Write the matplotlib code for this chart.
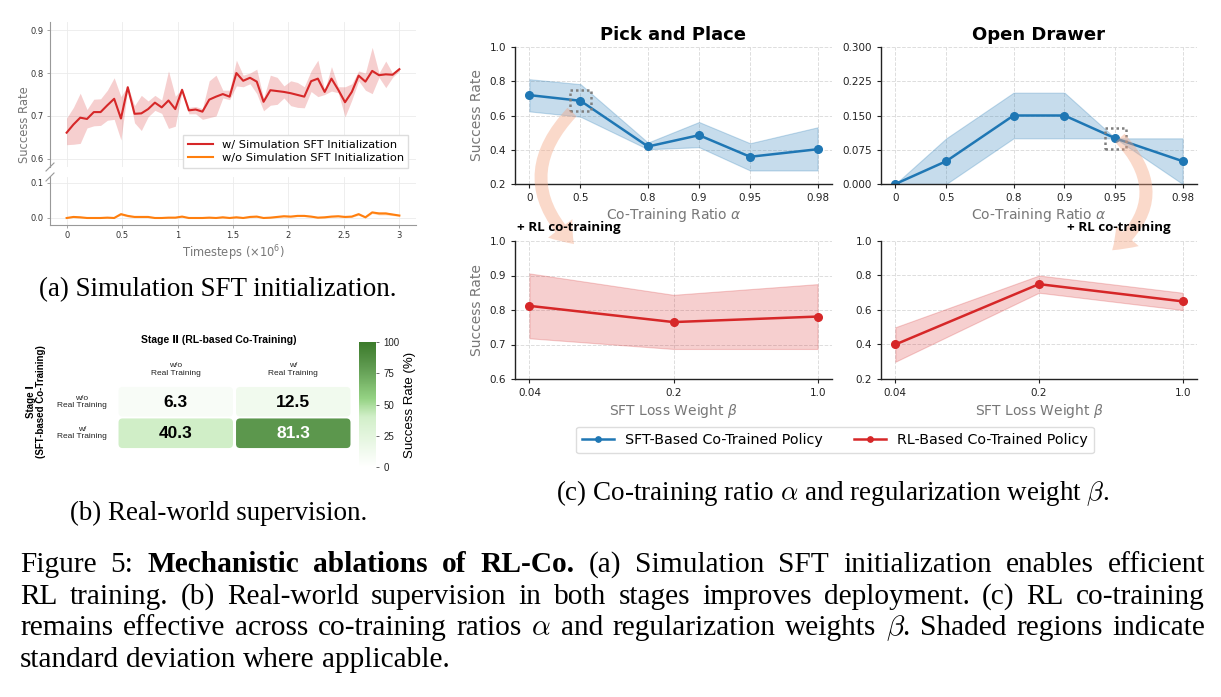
import numpy as np
import matplotlib
matplotlib.use('Agg')
import matplotlib.pyplot as plt
from matplotlib.patches import FancyBboxPatch, FancyArrowPatch, Rectangle, ArrowStyle
from matplotlib.colors import LinearSegmentedColormap, Normalize
import matplotlib.cm as cm

W, H = 1221, 697

# ---------------- data: (a) simulation SFT initialization ----------------
steps = np.linspace(0, 3.0, 50)
sft_mean = [0.661, 0.680, 0.696, 0.693, 0.709, 0.709, 0.725, 0.740, 0.694, 0.767,
            0.705, 0.706, 0.716, 0.731, 0.720, 0.736, 0.716, 0.761, 0.713, 0.715,
            0.710, 0.738, 0.745, 0.751, 0.745, 0.800, 0.782, 0.789, 0.780, 0.733,
            0.760, 0.758, 0.756, 0.753, 0.749, 0.745, 0.781, 0.787, 0.756, 0.787,
            0.761, 0.732, 0.756, 0.794, 0.780, 0.805, 0.795, 0.797, 0.796, 0.809]
sft_hi = [0.695, 0.720, 0.753, 0.715, 0.739, 0.740, 0.760, 0.789, 0.745, 0.770,
          0.724, 0.748, 0.735, 0.748, 0.737, 0.805, 0.746, 0.763, 0.720, 0.722,
          0.717, 0.782, 0.795, 0.760, 0.760, 0.830, 0.795, 0.800, 0.809, 0.741,
          0.795, 0.790, 0.770, 0.782, 0.778, 0.768, 0.805, 0.830, 0.760, 0.815,
          0.768, 0.768, 0.775, 0.805, 0.800, 0.860, 0.800, 0.828, 0.800, 0.812]
sft_lo = [0.633, 0.634, 0.636, 0.672, 0.677, 0.678, 0.690, 0.692, 0.644, 0.764,
          0.684, 0.666, 0.698, 0.713, 0.706, 0.671, 0.676, 0.758, 0.705, 0.705,
          0.692, 0.696, 0.700, 0.742, 0.738, 0.770, 0.768, 0.775, 0.752, 0.712,
          0.725, 0.727, 0.742, 0.724, 0.720, 0.719, 0.757, 0.745, 0.750, 0.758,
          0.754, 0.698, 0.737, 0.782, 0.760, 0.752, 0.790, 0.766, 0.790, 0.805]
nosft_mean = [0.000, 0.003, 0.002, 0.000, 0.000, 0.000, 0.001, 0.000, 0.011, 0.006,
              0.003, 0.003, 0.003, 0.000, 0.000, 0.001, 0.001, 0.004, 0.000, 0.000,
              0.000, 0.001, 0.000, 0.002, 0.000, 0.002, 0.000, 0.003, 0.004, 0.000,
              0.001, 0.003, 0.005, 0.004, 0.006, 0.006, 0.004, 0.001, 0.002, 0.004,
              0.005, 0.003, 0.004, 0.011, 0.002, 0.016, 0.013, 0.013, 0.010, 0.007]
nosft_hi = [0.001, 0.005, 0.004, 0.001, 0.001, 0.001, 0.003, 0.001, 0.014, 0.009,
            0.005, 0.005, 0.005, 0.001, 0.001, 0.003, 0.003, 0.006, 0.001, 0.001,
            0.001, 0.003, 0.001, 0.004, 0.001, 0.004, 0.001, 0.005, 0.006, 0.001,
            0.003, 0.005, 0.007, 0.006, 0.008, 0.008, 0.006, 0.003, 0.004, 0.006,
            0.007, 0.005, 0.006, 0.014, 0.004, 0.019, 0.017, 0.017, 0.013, 0.009]
nosft_lo = [0.000, 0.001, 0.000, 0.000, 0.000, 0.000, 0.000, 0.000, 0.008, 0.003,
            0.001, 0.001, 0.001, 0.000, 0.000, 0.000, 0.000, 0.002, 0.000, 0.000,
            0.000, 0.000, 0.000, 0.000, 0.000, 0.000, 0.000, 0.001, 0.002, 0.000,
            0.000, 0.001, 0.003, 0.002, 0.004, 0.004, 0.002, 0.000, 0.000, 0.002,
            0.003, 0.001, 0.002, 0.008, 0.000, 0.013, 0.009, 0.009, 0.007, 0.005]

# ---------------- data: (b) real-world supervision ----------------
stage2_labels = ['w/o\nReal Training', 'w/\nReal Training']
stage1_labels = ['w/o\nReal Training', 'w/\nReal Training']
real_success = [[6.3, 12.5],
                [40.3, 81.3]]

# ---------------- data: (c) co-training ratio / loss weight ----------------
alpha_vals = [0, 0.5, 0.8, 0.9, 0.95, 0.98]
alpha_labels = ['0', '0.5', '0.8', '0.9', '0.95', '0.98']
pick_sft = [0.719, 0.686, 0.419, 0.485, 0.359, 0.403]
pick_sft_hi = [0.812, 0.783, 0.442, 0.562, 0.438, 0.531]
pick_sft_lo = [0.624, 0.593, 0.403, 0.415, 0.279, 0.279]
drawer_sft = [0.0, 0.05, 0.15, 0.15, 0.10, 0.05]
drawer_sft_hi = [0.0, 0.10, 0.20, 0.20, 0.10, 0.10]
drawer_sft_lo = [0.0, 0.00, 0.10, 0.10, 0.10, 0.00]

beta_labels = ['0.04', '0.2', '1.0']
pick_rl = [0.812, 0.765, 0.781]
pick_rl_hi = [0.906, 0.844, 0.875]
pick_rl_lo = [0.718, 0.687, 0.687]
drawer_rl = [0.40, 0.75, 0.65]
drawer_rl_hi = [0.50, 0.80, 0.70]
drawer_rl_lo = [0.30, 0.70, 0.60]

RED = '#d62728'
ORANGE = '#ff7f0e'
BLUE = '#1f77b4'
SERIF = 'Liberation Serif'

fig = plt.figure(figsize=(W / 100, H / 100), dpi=100)
renderer = fig.canvas.get_renderer()


def px_axes(x0, y0, x1, y1):
    return fig.add_axes([x0 / W, 1 - y1 / H, (x1 - x0) / W, (y1 - y0) / H])


# ================= (a) =================
ax_t = px_axes(50, 22, 416, 167)
ax_b = px_axes(50, 177, 416, 225)
for ax in (ax_t, ax_b):
    ax.fill_between(steps, sft_lo, sft_hi, color=RED, alpha=0.22, lw=0)
    ax.plot(steps, sft_mean, color=RED, lw=1.5, label='w/ Simulation SFT Initialization')
    ax.fill_between(steps, nosft_lo, nosft_hi, color=ORANGE, alpha=0.3, lw=0)
    ax.plot(steps, nosft_mean, color=ORANGE, lw=1.5, label='w/o Simulation SFT Initialization')
    ax.set_xlim(-0.15, 3.15)
    ax.set_xticks([0, 0.5, 1, 1.5, 2, 2.5, 3])
    ax.grid(True, color='#ebebeb', lw=0.6)
    ax.set_axisbelow(True)
    ax.spines['top'].set_visible(False)
    ax.spines['right'].set_visible(False)
    for s in ('left', 'bottom'):
        ax.spines[s].set_color('#999999')
        ax.spines[s].set_linewidth(0.8)
    ax.tick_params(labelsize=6, colors='#999999', labelcolor='#333333', length=2.5, width=0.6,
                   pad=2)
ax_t.set_ylim(0.581, 0.919)
ax_t.set_yticks([0.6, 0.7, 0.8, 0.9])
ax_t.spines['bottom'].set_visible(False)
ax_t.tick_params(axis='x', length=0, labelbottom=False)
ax_b.set_ylim(-0.02, 0.117)
ax_b.set_yticks([0.0, 0.1])
ax_b.set_yticklabels(['0.0', '0.1'])
ax_b.set_xticklabels(['0', '0.5', '1', '1.5', '2', '2.5', '3'])
ax_b.set_xlabel('Timesteps ($\\times10^6$)', fontsize=8.3, color='#777777', labelpad=2)
fig.text(25 / W, 1 - 125 / H, 'Success Rate', rotation=90, fontsize=8.3, color='#777777',
         ha='center', va='center')
ax_t.legend(loc='lower right', bbox_to_anchor=(0.995, -0.045), fontsize=8.2, frameon=True,
            edgecolor='#dddddd', fancybox=False, framealpha=1, handlelength=2.2,
            borderpad=0.4, labelspacing=0.3)
# axis break marks
kw = dict(color='#999999', clip_on=False, lw=0.8)
ax_t.plot([-4 / 366, 4 / 366], [-4 / 145, 4 / 145], transform=ax_t.transAxes, **kw)
ax_b.plot([-4 / 366, 4 / 366], [1 - 4 / 48, 1 + 4 / 48], transform=ax_b.transAxes, **kw)

# sub-caption size fitted to the reference width of "(a) ..." (357 px)
cap_a = fig.text(218 / W, 1 - 290 / H, '(a) Simulation SFT initialization.', family=SERIF,
                 fontsize=14.5, ha='center', va='center')
sub_size = 14.5 * 357 / cap_a.get_window_extent(renderer).width
cap_a.set_fontsize(sub_size)

# ================= (b) =================
cmap = LinearSegmentedColormap.from_list(
    'sr', [(0.0, '#ffffff'), (0.4, '#d2efc9'), (0.55, '#94d283'), (0.8, '#5f9a50'), (1.0, '#3b7a2a')])
norm = Normalize(0, 100)
ax_h = px_axes(117, 386, 352, 449)
ax_h.set_xlim(0, 2)
ax_h.set_ylim(2, 0)
ax_h.axis('off')
for i in range(2):
    for j in range(2):
        v = real_success[i][j]
        box = FancyBboxPatch((j + 0.013, i + 0.03), 0.974, 0.94,
                             boxstyle='round,pad=0,rounding_size=0.035',
                             mutation_aspect=3.7, fc=cmap(norm(v)), ec='none')
        ax_h.add_patch(box)
        ax_h.text(j + 0.5, i + 0.52, f'{v:.1f}', ha='center', va='center', fontsize=12.5,
                  fontweight='bold', family='Liberation Sans',
                  color='white' if v > 60 else 'black')
for j, lab in enumerate(stage2_labels):
    ax_h.text(j + 0.5, -0.3, lab, ha='center', va='bottom', fontsize=6,
              family='Liberation Sans', color='#222222', linespacing=1.1)
for i, lab in enumerate(stage1_labels):
    ax_h.text(-0.3, i + 0.5, lab, ha='center', va='center', fontsize=6,
              family='Liberation Sans', color='#222222', linespacing=1.1)
fig.text(219 / W, 1 - 340 / H, 'Stage \u2161 (RL-based Co-Training)', ha='center', va='center',
         fontsize=7.5, fontweight='bold', family=['Liberation Sans', 'DejaVu Sans'])
fig.text(36 / W, 1 - 402 / H, 'Stage \u2160\n(SFT-based Co-Training)', ha='center', va='center',
         rotation=90, fontsize=7, fontweight='bold', family=['Liberation Sans', 'DejaVu Sans'],
         linespacing=1.1)
cax = px_axes(359, 342, 376, 467)
cb = fig.colorbar(cm.ScalarMappable(norm=norm, cmap=cmap), cax=cax, ticks=[0, 25, 50, 75, 100])
cb.outline.set_visible(False)
cax.tick_params(labelsize=7, length=2, width=0.6, colors='#555555', labelcolor='#222222')
for t in cax.get_yticklabels():
    t.set_family('Liberation Sans')
cb.set_label('Success Rate (%)', fontsize=9.5, family='Liberation Sans', labelpad=3)

fig.text(219 / W, 1 - 513 / H, '(b) Real-world supervision.', family=SERIF,
         fontsize=sub_size, ha='center', va='center')

# ================= (c) =================
alpha_pos = -np.log(1 - np.array(alpha_vals))
beta_pos = np.arange(len(beta_labels))


def style_c(ax, xpos, xlabels, ylim, yticks, ylabels):
    span = xpos[-1] - xpos[0]
    ax.set_xlim(xpos[0] - 0.05 * span, xpos[-1] + 0.05 * span)
    ax.set_xticks(xpos)
    ax.set_xticklabels(xlabels)
    ax.set_ylim(*ylim)
    ax.set_yticks(yticks)
    ax.set_yticklabels(ylabels)
    ax.grid(True, ls='--', color='#dddddd', lw=0.7)
    ax.set_axisbelow(True)
    ax.spines['top'].set_visible(False)
    ax.spines['right'].set_visible(False)
    for s in ('left', 'bottom'):
        ax.spines[s].set_color('#222222')
        ax.spines[s].set_linewidth(1.0)
    ax.tick_params(labelsize=7.5, length=3, width=0.8, colors='#222222')
    ax.patch.set_alpha(0)


ax_pp = px_axes(515, 47, 832, 184)
ax_od = px_axes(881, 47, 1197, 184)
ax_pr = px_axes(515, 241, 832, 379)
ax_or = px_axes(881, 241, 1197, 379)

ax_pp.fill_between(alpha_pos, pick_sft_lo, pick_sft_hi, color=BLUE, alpha=0.25, lw=0.8)
l_sft, = ax_pp.plot(alpha_pos, pick_sft, color=BLUE, lw=1.8, marker='o', ms=5.5)
ax_od.fill_between(alpha_pos, drawer_sft_lo, drawer_sft_hi, color=BLUE, alpha=0.25, lw=0.8)
ax_od.plot(alpha_pos, drawer_sft, color=BLUE, lw=1.8, marker='o', ms=5.5)
ax_pr.fill_between(beta_pos, pick_rl_lo, pick_rl_hi, color=RED, alpha=0.22, lw=0.8)
l_rl, = ax_pr.plot(beta_pos, pick_rl, color=RED, lw=1.8, marker='o', ms=5.5)
ax_or.fill_between(beta_pos, drawer_rl_lo, drawer_rl_hi, color=RED, alpha=0.22, lw=0.8)
ax_or.plot(beta_pos, drawer_rl, color=RED, lw=1.8, marker='o', ms=5.5)

style_c(ax_pp, alpha_pos, alpha_labels, (0.2, 1.0), [0.2, 0.4, 0.6, 0.8, 1.0],
        ['0.2', '0.4', '0.6', '0.8', '1.0'])
style_c(ax_od, alpha_pos, alpha_labels, (0.0, 0.3), [0, 0.075, 0.15, 0.225, 0.3],
        ['0.000', '0.075', '0.150', '0.225', '0.300'])
style_c(ax_pr, beta_pos, beta_labels, (0.6, 1.0), [0.6, 0.7, 0.8, 0.9, 1.0],
        ['0.6', '0.7', '0.8', '0.9', '1.0'])
style_c(ax_or, beta_pos, beta_labels, (0.2, 1.0), [0.2, 0.4, 0.6, 0.8, 1.0],
        ['0.2', '0.4', '0.6', '0.8', '1.0'])

ax_pp.set_title('Pick and Place', fontsize=13, fontweight='bold', pad=5)
ax_od.set_title('Open Drawer', fontsize=13, fontweight='bold', pad=5)
for ax in (ax_pp, ax_od):
    ax.set_xlabel('Co-Training Ratio $\\alpha$', fontsize=10, color='#777777', labelpad=2)
for ax in (ax_pr, ax_or):
    ax.set_xlabel('SFT Loss Weight $\\beta$', fontsize=10, color='#777777', labelpad=3)
for ax in (ax_pp, ax_pr):
    ax.set_ylabel('Success Rate', fontsize=10, color='#777777', labelpad=4)

# dotted highlight squares around the points picked for RL co-training
sq = 21


def dotted_box(ax, x, y, w_px, h_px):
    x0, x1 = ax.get_xlim()
    y0, y1 = ax.get_ylim()
    hw = sq / 2 * (x1 - x0) / w_px
    hh = sq / 2 * (y1 - y0) / h_px
    ax.add_patch(Rectangle((x - hw, y - hh), 2 * hw, 2 * hh, fill=False, ec='#808080',
                           ls=(0, (1, 1.2)), lw=1.8, zorder=5, clip_on=False))


dotted_box(ax_pp, alpha_pos[1], pick_sft[1], 317, 137)
dotted_box(ax_od, alpha_pos[4], drawer_sft[4], 316, 137)

arrow_style = ArrowStyle.Simple(head_length=1.5, head_width=2.2, tail_width=0.9)
fig.patches.append(FancyArrowPatch((574 / W, 1 - 110 / H), (576 / W, 1 - 246 / H),
                                   transform=fig.transFigure, arrowstyle=arrow_style,
                                   connectionstyle='arc3,rad=0.5', mutation_scale=10,
                                   color='#f4a582', alpha=0.42, lw=0, zorder=1))
fig.patches.append(FancyArrowPatch((1118 / W, 1 - 136 / H), (1110 / W, 1 - 252 / H),
                                   transform=fig.transFigure, arrowstyle=arrow_style,
                                   connectionstyle='arc3,rad=-0.55', mutation_scale=10,
                                   color='#f4a582', alpha=0.42, lw=0, zorder=1))
fig.text(517 / W, 1 - 227 / H, '+ RL co-training', fontsize=9.6, fontweight='bold',
         family='Open Sans', ha='left', va='center', zorder=5)
fig.text(1067 / W, 1 - 228 / H, '+ RL co-training', fontsize=9.6, fontweight='bold',
         family='Open Sans', ha='left', va='center', zorder=5)

fig.legend([l_sft, l_rl], ['SFT-Based Co-Trained Policy', 'RL-Based Co-Trained Policy'],
           loc='center', bbox_to_anchor=(835 / W, 1 - 440 / H), ncol=2, fontsize=10.3,
           frameon=True, edgecolor='#dddddd', framealpha=1, columnspacing=2.2,
           handlelength=2.2, markerscale=0.7, borderpad=0.45)

fig.text(833 / W, 1 - 493 / H, '(c) Co-training ratio $\\alpha$ and regularization weight $\\beta$.',
         family=SERIF, math_fontfamily='cm', fontsize=sub_size, ha='center', va='center')

# ================= figure caption (justified) =================
caption_lines = [
    [('Figure 5:', 'normal'), ('Mechanistic ablations of RL-Co.', 'bold'),
     ('(a) Simulation SFT initialization enables efficient', 'normal')],
    [('RL training. (b) Real-world supervision in both stages improves deployment. (c) RL co-training',
      'normal')],
    [('remains effective across co-training ratios $\\alpha$ and regularization weights $\\beta$. '
      'Shaded regions indicate', 'normal')],
    [('standard deviation where applicable.', 'normal')],
]
caption_base = [572, 604, 635, 667]
x_left, x_right = 20, 1205

line_words = []
for segs, yy in zip(caption_lines, caption_base):
    words = []
    for seg, wt in segs:
        for w in seg.split(' '):
            words.append(fig.text(0, 1 - yy / H, w, family=SERIF, fontweight=wt, fontsize=14,
                                  math_fontfamily='cm', ha='left', va='baseline'))
    line_words.append(words)

# pick the caption size so the widest justified line fits with normal spacing
natural = []
for words in line_words[:-1]:
    ws = sum(t.get_window_extent(renderer).width for t in words)
    natural.append(ws + (len(words) - 1) * 0.25 * 14 * 100 / 72)
cap_size = 14 * (x_right - x_left) * 0.985 / max(natural)

for k, words in enumerate(line_words):
    for t in words:
        t.set_fontsize(cap_size)
    widths = [t.get_window_extent(renderer).width for t in words]
    if k < len(line_words) - 1:
        gap = (x_right - x_left - sum(widths)) / (len(words) - 1)
    else:
        gap = 0.25 * cap_size * 100 / 72
    x = x_left
    for t, wd in zip(words, widths):
        t.set_x(x / W)
        x += wd + gap

fig.savefig('out.png', dpi=100)
